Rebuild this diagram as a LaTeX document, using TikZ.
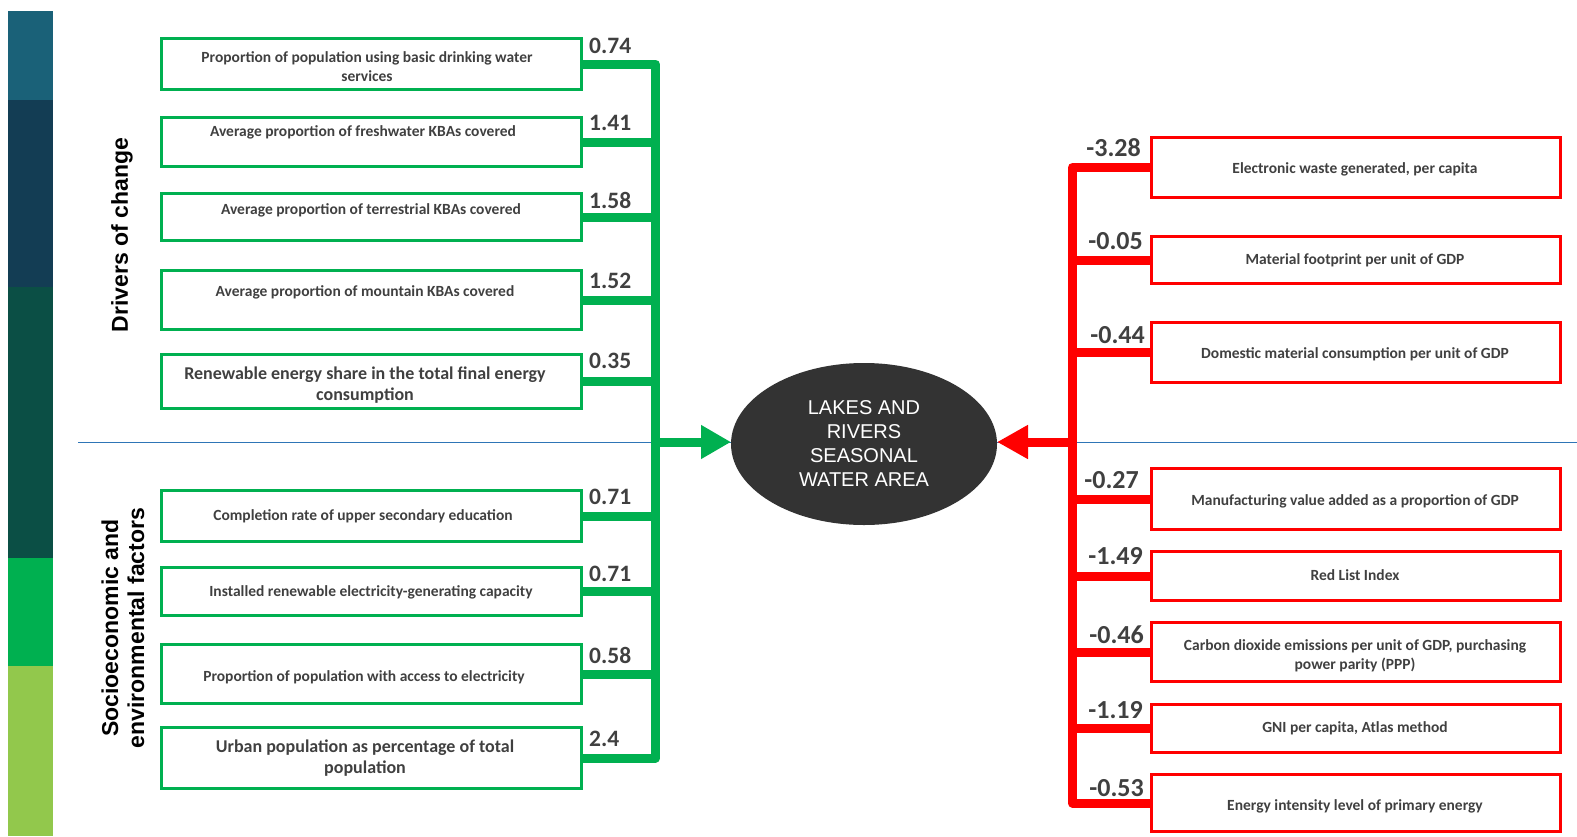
\documentclass[tikz,border=0pt]{standalone}
\usepackage{fontspec}
\setmainfont{Carlito}
\newfontfamily\arialf{Liberation Sans}
\usetikzlibrary{arrows.meta,shapes.geometric}
\definecolor{gcol}{RGB}{0,176,80}
\definecolor{rcol}{RGB}{255,0,0}
\definecolor{tcol}{RGB}{64,64,64}
\definecolor{ecol}{RGB}{51,51,51}
\definecolor{bcol}{RGB}{46,117,182}
\definecolor{barA}{RGB}{26,97,120}
\definecolor{barB}{RGB}{19,61,84}
\definecolor{barC}{RGB}{11,79,69}
\definecolor{barD}{RGB}{0,176,80}
\definecolor{barE}{RGB}{146,200,76}
\tikzset{
  gbox/.style={draw=gcol, line width=3pt, minimum width=420pt, inner sep=0pt, outer sep=0pt},
  rbox/.style={draw=rcol, line width=3pt, minimum width=409pt, inner sep=0pt, outer sep=0pt},
  btxt/.style={font=\bfseries\fontsize{15.5}{19.5}\selectfont, text=tcol, align=center, inner sep=0pt},
  bigtxt/.style={font=\bfseries\fontsize{18}{21.5}\selectfont, text=tcol, align=center, inner sep=0pt},
  lnum/.style={font=\bfseries\fontsize{23.5}{23.5}\selectfont, text=tcol, anchor=west, inner sep=0pt},
  rnum/.style={font=\bfseries\fontsize{26}{26}\selectfont, text=tcol, anchor=east, inner sep=0pt},
  gwire/.style={draw=gcol, line width=9pt, line join=round},
  rwire/.style={draw=rcol, line width=9pt, line join=round},
  sidetxt/.style={font=\arialf\bfseries\fontsize{23}{26}\selectfont, text=black, rotate=90, align=center, inner sep=0pt},
}
\begin{document}
\begin{tikzpicture}[x=1pt,y=-1pt]
\useasboundingbox (0,0) rectangle (1577,836);
% colour bar
\fill[barA] (8,11) rectangle (53,100);
\fill[barB] (8,100) rectangle (53,287);
\fill[barC] (8,287) rectangle (53,558);
\fill[barD] (8,558) rectangle (53,666);
\fill[barE] (8,666) rectangle (53,836);
% separator
\coordinate (sepL) at (78,442);
\coordinate (sepR) at (1577,442);
\draw[bcol, line width=1pt] (sepL) -- (sepR);
% side labels
\node[sidetxt] (drv) at (122,235) {Drivers of change};
\node[sidetxt] (soc) at (123,628) {Socioeconomic and\\environmental factors};
% centre
\node[ellipse, fill=ecol, minimum width=266pt, minimum height=162pt, inner sep=0pt, outer sep=0pt,
      font=\arialf\fontsize{20}{24}\selectfont, text=white, align=center] (lake) at (864,444)
      {LAKES AND\\RIVERS\\SEASONAL\\WATER AREA};
\coordinate (mid) at (864,442);
% left boxes
\node[gbox, minimum height=51pt] (L1) at (371.5,64) {};
\node[gbox, minimum height=49pt] (L2) at (371.5,142) {};
\node[gbox, minimum height=47pt] (L3) at (371.5,217) {};
\node[gbox, minimum height=59pt] (L4) at (371.5,300) {};
\node[gbox, minimum height=54pt] (L5) at (371.5,381.5) {};
\node[gbox, minimum height=51pt] (L6) at (371.5,516) {};
\node[gbox, minimum height=48pt] (L7) at (371.5,591.5) {};
\node[gbox, minimum height=59pt] (L8) at (371.5,674) {};
\node[gbox, minimum height=61pt] (L9) at (371.5,758) {};
\node[btxt] (T1) at (367,66.5) {Proportion of population using basic drinking water\\services};
\node[btxt] (T2) at (363,132) {Average proportion of freshwater KBAs covered};
\node[btxt] (T3) at (371,210) {Average proportion of terrestrial KBAs covered};
\node[btxt] (T4) at (365,292) {Average proportion of mountain KBAs covered};
\node[bigtxt] (T5) at (365,385) {Renewable energy share in the total final energy\\consumption};
\node[btxt] (T6) at (363,516) {Completion rate of upper secondary education};
\node[btxt] (T7) at (371,592) {Installed renewable electricity-generating capacity};
\node[btxt] (T8) at (364,677) {Proportion of population with access to electricity};
\node[bigtxt] (T9) at (365,758) {Urban population as percentage of total\\population};
\node[lnum] (N1) at (589,46) {0.74};
\node[lnum] (N2) at (589,123) {1.41};
\node[lnum] (N3) at (589,200) {1.58};
\node[lnum] (N4) at (589,281) {1.52};
\node[lnum] (N5) at (589,361) {0.35};
\node[lnum] (N6) at (589,497) {0.71};
\node[lnum] (N7) at (589,574) {0.71};
\node[lnum] (N8) at (589,655) {0.58};
\node[lnum] (N9) at (589,739) {2.4};
% left bus
\coordinate (bx) at (655.5,0);
\draw[gwire] (L1.east) -- (L1.east -| bx) -- (L9.east -| bx) -- (L9.east);
\foreach \i in {2,...,8} {\draw[gwire] (L\i.east) -- (L\i.east -| bx);}
\draw[gwire, -{Triangle[length=30pt,width=32pt]}] (bx |- mid) -- (lake.west |- mid);
% right boxes
\node[rbox, minimum height=60pt] (R1) at (1356,167.5) {};
\node[rbox, minimum height=47pt] (R2) at (1356,260) {};
\node[rbox, minimum height=60pt] (R3) at (1356,352.5) {};
\node[rbox, minimum height=61pt] (R4) at (1356,499) {};
\node[rbox, minimum height=49pt] (R5) at (1356,576) {};
\node[rbox, minimum height=59pt] (R6) at (1356,652) {};
\node[rbox, minimum height=48pt] (R7) at (1356,728.5) {};
\node[rbox, minimum height=57pt] (R8) at (1356,803) {};
\node[btxt] (S1) at (1355,169) {Electronic waste generated, per capita};
\node[btxt] (S2) at (1355,260) {Material footprint per unit of GDP};
\node[btxt] (S3) at (1355,354) {Domestic material consumption per unit of GDP};
\node[btxt] (S4) at (1355,501) {Manufacturing value added as a proportion of GDP};
\node[btxt] (S5) at (1355,575) {Red List Index};
\node[btxt] (S6) at (1355,656) {Carbon dioxide emissions per unit of GDP, purchasing\\power parity (PPP)};
\node[btxt] (S7) at (1355,728) {GNI per capita, Atlas method};
\node[btxt] (S8) at (1355,806) {Energy intensity level of primary energy};
\node[rnum] (M1) at (1141,148) {-3.28};
\node[rnum] (M2) at (1143,241) {-0.05};
\node[rnum] (M3) at (1145,335) {-0.44};
\node[rnum] (M4) at (1139,480) {-0.27};
\node[rnum] (M5) at (1143,556) {-1.49};
\node[rnum] (M6) at (1144,635) {-0.46};
\node[rnum] (M7) at (1143,710) {-1.19};
\node[rnum] (M8) at (1144,788) {-0.53};
% right bus
\coordinate (rbx) at (1072.5,0);
\draw[rwire] (R1.west) -- (R1.west -| rbx) -- (R8.west -| rbx) -- (R8.west);
\foreach \i in {2,...,7} {\draw[rwire] (R\i.west) -- (R\i.west -| rbx);}
\draw[rwire, -{Triangle[length=31pt,width=32pt]}] (rbx |- mid) -- (lake.east |- mid);
\end{tikzpicture}
\end{document}
